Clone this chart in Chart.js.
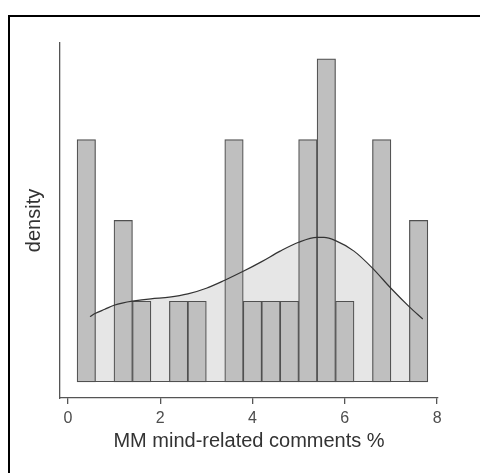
<!DOCTYPE html>
<html lang="en">

<head>
    <meta charset="UTF-8">
    <title>MM mind-related comments %</title>
    <style>
        html, body { margin: 0; padding: 0; background: #fff; overflow: hidden; }
        .frame { position: absolute; left: 8px; top: 15px; width: 1000px; height: 1000px; border: 2px solid #000; }
        #histChart { position: absolute; left: 0; top: 0; }
    </style>
</head>

<body>
    <div class="frame"></div>
    <canvas id="histChart" width="480" height="473"></canvas>

    <script src="https://cdn.jsdelivr.net/npm/chart.js"></script>
    <script>
        // histogram bins (width 0.4) and their counts
        var binCenters = [0.4, 0.8, 1.2, 1.6, 2.0, 2.4, 2.8, 3.2, 3.6, 4.0, 4.4, 4.8, 5.2, 5.6, 6.0, 6.4, 6.8, 7.2, 7.6];
        var binCounts = [3, 0, 2, 1, 0, 1, 1, 0, 3, 1, 1, 1, 3, 4, 1, 0, 3, 0, 2];
        var binStart = 0.2;
        var binEnd = 7.8;

        // density curve (scaled to counts)
        var densityX = [0.48, 0.6, 0.8, 1.0, 1.2, 1.4, 1.8, 2.2, 2.6, 3.0, 3.4, 3.8, 4.2, 4.6, 5.0, 5.4, 5.55, 5.8, 6.2, 6.6, 7.0, 7.4, 7.69];
        var densityY = [0.81, 0.85, 0.9, 0.95, 0.98, 1.0, 1.03, 1.05, 1.09, 1.16, 1.26, 1.37, 1.49, 1.62, 1.73, 1.79, 1.79, 1.75, 1.62, 1.41, 1.16, 0.93, 0.78];

        var xTicks = [0, 2, 4, 6, 8];
        var xTitle = "MM mind-related comments %";
        var yTitle = "density";

        var fontFamily = "'Liberation Sans', Arial, Helvetica, sans-serif";

        function points(xs, ys) {
            return xs.map(function (x, i) { return { x: x, y: ys[i] }; });
        }

        // zero-height bins still show a line along the base in the original
        var baselinePlugin = {
            id: "baseline",
            afterDatasetsDraw: function (chart) {
                var ctx = chart.ctx;
                var x = chart.scales.x;
                var y = chart.scales.y;
                var py = Math.round(y.getPixelForValue(0)) - 0.5;
                ctx.save();
                ctx.strokeStyle = "#505050";
                ctx.lineWidth = 1;
                ctx.beginPath();
                ctx.moveTo(x.getPixelForValue(binStart), py);
                ctx.lineTo(x.getPixelForValue(binEnd), py);
                ctx.stroke();
                ctx.restore();
            }
        };

        function createChart() {
            var ctx = document.getElementById("histChart").getContext("2d");
            new Chart(ctx, {
                data: {
                    datasets: [
                        {
                            type: "line",
                            data: points(densityX, densityY),
                            fill: "origin",
                            backgroundColor: "#e6e6e6",
                            borderWidth: 0,
                            pointRadius: 0,
                            cubicInterpolationMode: "monotone",
                            order: 3
                        },
                        {
                            type: "bar",
                            data: points(binCenters, binCounts),
                            backgroundColor: "#bfbfbf",
                            borderColor: "#505050",
                            borderWidth: 1.2,
                            borderSkipped: false,
                            barPercentage: 1,
                            categoryPercentage: 1,
                            order: 2
                        },
                        {
                            type: "line",
                            data: points(densityX, densityY),
                            fill: false,
                            borderColor: "#333333",
                            borderWidth: 1.2,
                            pointRadius: 0,
                            cubicInterpolationMode: "monotone",
                            order: 1
                        }
                    ]
                },
                options: {
                    responsive: false,
                    animation: false,
                    layout: { padding: { top: 43, right: 42, left: 0, bottom: 0 } },
                    plugins: {
                        legend: { display: false },
                        tooltip: { enabled: false }
                    },
                    scales: {
                        x: {
                            type: "linear",
                            min: -0.17,
                            max: 8.02,
                            offset: false,
                            afterBuildTicks: function (scale) {
                                scale.ticks = xTicks.map(function (v) { return { value: v }; });
                            },
                            afterFit: function (scale) { scale.height = 75; },
                            grid: {
                                drawOnChartArea: false,
                                drawTicks: true,
                                tickLength: 6,
                                color: "#555555",
                                lineWidth: 1.3,
                                offset: false
                            },
                            border: { display: true, color: "#555555", width: 1.3 },
                            ticks: {
                                padding: 5,
                                maxRotation: 0,
                                autoSkip: false,
                                color: "#4d4d4d",
                                font: { family: fontFamily, size: 16 }
                            },
                            title: {
                                display: true,
                                text: xTitle,
                                color: "#333333",
                                font: { family: fontFamily, size: 20 },
                                padding: { top: 0, bottom: 20 }
                            }
                        },
                        y: {
                            type: "linear",
                            min: -0.198,
                            max: 4.196,
                            afterFit: function (scale) { scale.width = 60; },
                            grid: { display: false },
                            border: { display: true, color: "#555555", width: 1.3 },
                            ticks: { display: false },
                            title: {
                                display: true,
                                text: yTitle,
                                color: "#333333",
                                font: { family: fontFamily, size: 20 },
                                padding: { top: 22, bottom: 0 }
                            }
                        }
                    }
                },
                plugins: [baselinePlugin]
            });
        }

        createChart();
    </script>
</body>

</html>
